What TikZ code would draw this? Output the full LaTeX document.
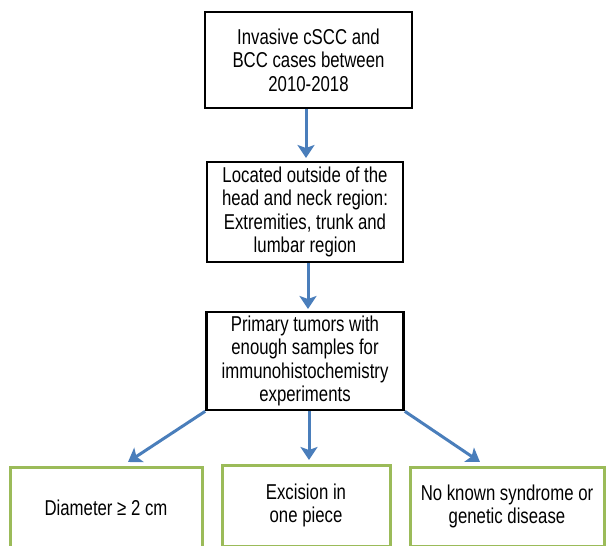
\documentclass[tikz,border=0pt]{standalone}
\usepackage{fontspec}
\setmainfont{Liberation Sans}[FakeStretch=0.78]
\usetikzlibrary{arrows.meta}
\definecolor{flowblue}{HTML}{4A7EBB}
\definecolor{critgreen}{HTML}{9BBB59}
\begin{document}
\begin{tikzpicture}
  [x=1pt,y=-1pt,
   every node/.style={rectangle,align=center,inner sep=0pt,
     font=\fontsize{21.5}{23.5}\selectfont},
   stepbox/.style={draw=black,line width=2.6pt},
   critbox/.style={draw=critgreen,line width=3pt},
   flow/.style={flowblue,line width=3pt,
     -{Stealth[length=13pt,width=17pt,inset=3pt]}}]
\useasboundingbox (0,0) rectangle (606,546);
\clip (0,0) rectangle (606,546);
\node (n1)[stepbox,minimum width=207pt,minimum height=96pt] at (308.5,60)
  {Invasive cSCC and\\BCC cases between\\2010-2018};
\node (n2)[stepbox,minimum width=196pt,minimum height=100pt] at (305,212)
  {Located outside of the\\head and neck region:\\Extremities, trunk and\\lumbar region};
\node (n3)[stepbox,minimum width=197pt,minimum height=98pt] at (305,361)
  {Primary tumors with\\enough samples for\\immunohistochemistry\\experiments};
\node (n4)[critbox,minimum width=192pt,minimum height=81pt] at (106,507.5)
  {Diameter ≥ 2 cm};
\node (n5)[critbox,minimum width=168pt,minimum height=81pt] at (306,505.5)
  {Excision in\\one piece};
\node (n6)[critbox,minimum width=194pt,minimum height=79pt] at (507,506.5)
  {No known syndrome or\\genetic disease};

\coordinate (t2) at (306,158);
\coordinate (t3) at (308,309);
\coordinate (t4) at (128,462);
\coordinate (t5) at (309,460);
\coordinate (t6) at (480,462);

\draw[flow] (n1.south -| t2) -- (t2);
\draw[flow] (n2.south -| t3) -- (t3);
\draw[flow] (n3.south west) -- (t4);
\draw[flow] (n3.south -| t5) -- (t5);
\draw[flow] (n3.south east) -- (t6);
\end{tikzpicture}
\end{document}
